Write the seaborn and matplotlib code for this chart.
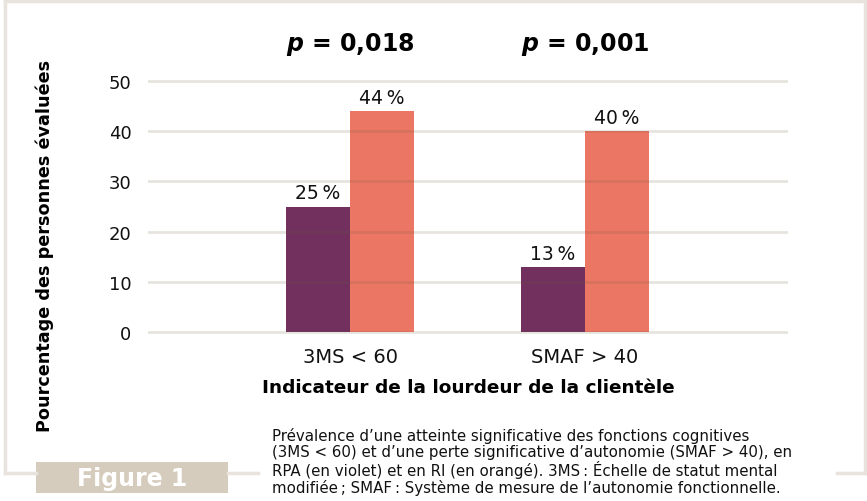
import numpy as np
import pandas as pd
import matplotlib
matplotlib.use("Agg")
import matplotlib.pyplot as plt
import seaborn as sns
from matplotlib.lines import Line2D
from matplotlib.patches import Rectangle

# --- data ---
categories = ["3MS < 60", "SMAF > 40"]
groups = ["RPA", "RI"]
rpa_values = [25, 13]
ri_values = [44, 40]
p_values = ["0,018", "0,001"]

df = pd.DataFrame({
    "Indicateur": categories * 2,
    "Milieu": [groups[0]] * 2 + [groups[1]] * 2,
    "Pourcentage": rpa_values + ri_values,
})

sns.set_style("white")
plt.rcParams["font.family"] = ["DejaVu Sans"]

W, H = 867, 502
fig = plt.figure(figsize=(W / 100, H / 100), dpi=100)

def fx(px):
    return px / W

def fy(py):
    return 1 - py / H

ax = fig.add_axes([fx(148), fy(335.5), fx(788) - fx(148), (335.5 - 79.5) / H])

sns.barplot(data=df, x="Indicateur", y="Pourcentage", hue="Milieu",
            order=categories, hue_order=groups,
            palette=["#71305e", "#ea7663"], width=0.545, saturation=1,
            linewidth=0, edgecolor="none", legend=False, ax=ax)

ax.set_xlim(-0.86, 1.864)
ax.set_ylim(-0.5, 50.5)
ax.set_yticks([0, 10, 20, 30, 40, 50])
ax.yaxis.grid(True, color="#6e5a3c", alpha=0.16, linewidth=2.0)
ax.set_axisbelow(False)
sns.despine(ax=ax, left=True, bottom=True)
ax.tick_params(axis="y", length=0, pad=12, labelsize=13, labelcolor="#111111")
ax.tick_params(axis="x", length=0, pad=9, labelsize=14, labelcolor="#111111")
ax.set_xlabel("")
ax.set_ylabel("")

# value labels above bars
for container, vals in zip(ax.containers, [rpa_values, ri_values]):
    ax.bar_label(container, labels=[f"{v}\u2009%" for v in vals],
                 padding=3, fontsize=13.5, color="#111111")

# p-values above each category
for i, p in enumerate(p_values):
    ax.text(i, 57.5, r"$\bfit{p}$" + f" = {p}", ha="center", va="center",
            fontsize=17, fontweight="bold", color="black", clip_on=False)

fig.text(fx(468), fy(388), "Indicateur de la lourdeur de la clientèle",
         ha="center", va="center", fontsize=13.3, fontweight="bold", color="black")
fig.text(fx(45), fy(246), "Pourcentage des personnes évaluées",
         ha="center", va="center", rotation=90, fontsize=12.7, fontweight="bold",
         color="black")

# frame around the figure
frame_col = "#e8e3dc"
segments = [
    ([5, 865], [1.5, 1.5]),
    ([5, 5], [1.5, 474]),
    ([865, 865], [1.5, 474]),
    ([5, 36], [474, 474]),
    ([228, 258], [474, 474]),
    ([837, 865], [474, 474]),
]
for xs, ys in segments:
    fig.add_artist(Line2D([fx(x) for x in xs], [fy(y) for y in ys],
                          color=frame_col, linewidth=2.5,
                          solid_capstyle="projecting"))

fig.add_artist(Rectangle((fx(36), fy(494)), fx(228) - fx(36), (494 - 463) / H,
                         facecolor="#d6ccbd", edgecolor="none"))
fig.text(fx(132), fy(479), "Figure 1", ha="center", va="center",
         fontsize=17, fontweight="bold", color="white")

caption = ("Prévalence d’une atteinte significative des fonctions cognitives\n"
           "(3MS < 60) et d’une perte significative d’autonomie (SMAF > 40), en\n"
           "RPA (en violet) et en RI (en orangé). 3MS\u2009: Échelle de statut mental\n"
           "modifiée\u2009; SMAF\u2009: Système de mesure de l’autonomie fonctionnelle.")
fig.text(fx(272), fy(428), caption, ha="left", va="top", fontsize=10.8,
         linespacing=1.07, color="#111111")

fig.savefig("out.png", dpi=100)
